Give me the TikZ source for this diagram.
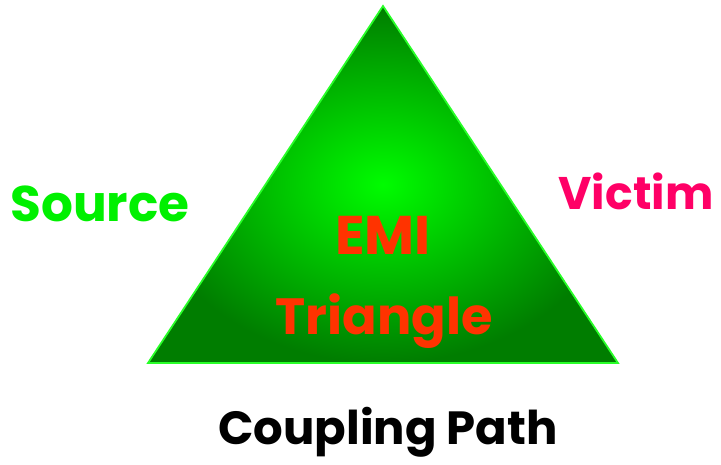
\documentclass[tikz,border=0pt]{standalone}
\usepackage{fontspec}
\setmainfont{Poppins}

\definecolor{emibright}{RGB}{0,252,0}
\definecolor{emidark}{RGB}{0,125,0}
\definecolor{emiedge}{RGB}{40,255,40}
\definecolor{sourcegreen}{RGB}{0,240,0}
\definecolor{victimpink}{RGB}{255,0,102}
\definecolor{emired}{RGB}{255,51,0}

\tikzset{
  label text/.style={font=\bfseries\fontsize{#1}{#1}\selectfont, anchor=base, inner sep=0pt},
  label text/.default=30
}

\begin{document}
\begin{tikzpicture}[x=0.02cm, y=-0.02cm]
        \useasboundingbox (0,0) rectangle (721,465);
        \coordinate (apex) at (383,6);
        \coordinate (left) at (148,363);
        \coordinate (right) at (618,363);
        % triangle
        \shade[inner color=emibright, outer color=emidark] (apex) -- (left) -- (right) -- cycle;
        \draw[emiedge, line width=1pt, line join=miter] (apex) -- (left) -- (right) -- cycle;
        % labels
        \node[label text=28.5, text=sourcegreen] (source) at (100,222) {Source};
        \node[label text=26, text=victimpink] (victim) at (636,210) {Victim};
        \node[label text=31, text=emired] (emi) at (383,255) {EMI};
        \node[label text=29, text=emired] (tri) at (384,335) {Triangle};
        \node[label text=26.5, text=black] (path) at (388,445) {Coupling Path};
    \end{tikzpicture}
\end{document}
